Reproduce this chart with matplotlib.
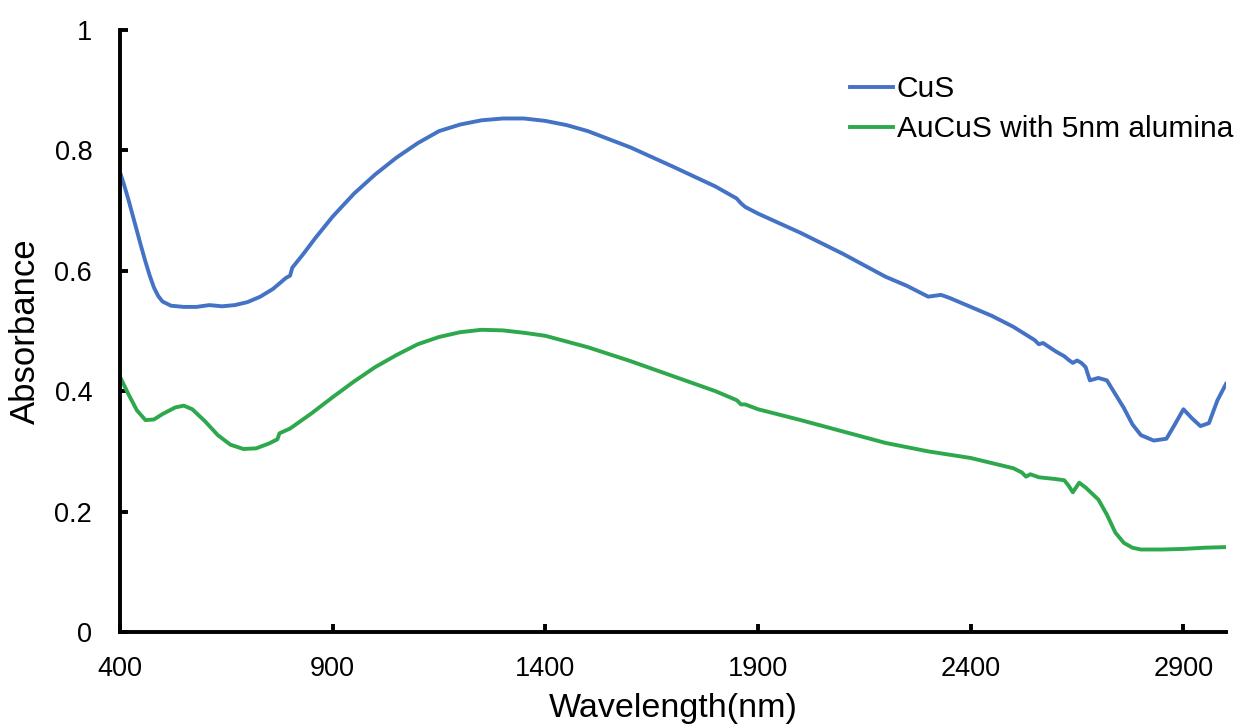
import matplotlib
matplotlib.use("Agg")
import matplotlib.pyplot as plt

plt.rcParams['font.family'] = ['Liberation Sans', 'DejaVu Sans']

# CuS absorbance spectrum
cus_wl = [400, 410, 420, 430, 440, 450, 460, 470, 480, 490, 500, 520, 550, 580,
          610, 640, 670, 700, 730, 760, 790, 800, 805, 830, 860, 900, 950, 1000,
          1050, 1100, 1150, 1200, 1250, 1300, 1350, 1400, 1450, 1500, 1600, 1700,
          1800, 1850, 1860, 1870, 1900, 2000, 2100, 2200, 2250, 2300, 2330, 2350,
          2400, 2450, 2500, 2550, 2560, 2570, 2600, 2620, 2630, 2640, 2650, 2660,
          2670, 2680, 2700, 2720, 2740, 2760, 2780, 2800, 2830, 2860, 2880, 2900,
          2920, 2940, 2960, 2980, 3000]
cus_abs = [0.764, 0.742, 0.718, 0.692, 0.666, 0.640, 0.615, 0.592, 0.572, 0.558,
           0.549, 0.542, 0.540, 0.540, 0.543, 0.541, 0.543, 0.548, 0.557, 0.570,
           0.588, 0.592, 0.605, 0.627, 0.655, 0.690, 0.728, 0.760, 0.788, 0.812,
           0.832, 0.843, 0.850, 0.853, 0.853, 0.849, 0.842, 0.832, 0.805, 0.773,
           0.740, 0.720, 0.712, 0.706, 0.695, 0.663, 0.628, 0.590, 0.575, 0.557,
           0.560, 0.555, 0.540, 0.525, 0.507, 0.485, 0.478, 0.480, 0.466, 0.458,
           0.452, 0.447, 0.451, 0.447, 0.440, 0.418, 0.422, 0.418, 0.395, 0.372,
           0.345, 0.327, 0.318, 0.321, 0.345, 0.370, 0.355, 0.342, 0.347, 0.385,
           0.412]

# AuCuS with 5nm alumina
au_wl = [400, 420, 440, 460, 480, 500, 530, 550, 570, 600, 630, 660, 690, 720,
         750, 770, 775, 800, 850, 900, 950, 1000, 1050, 1100, 1150, 1200, 1250,
         1300, 1350, 1400, 1500, 1600, 1700, 1800, 1850, 1860, 1870, 1900, 2000,
         2100, 2200, 2300, 2400, 2500, 2520, 2530, 2540, 2560, 2600, 2620, 2630,
         2640, 2655, 2670, 2700, 2720, 2740, 2760, 2780, 2800, 2850, 2900, 2950,
         3000]
au_abs = [0.424, 0.395, 0.368, 0.352, 0.353, 0.362, 0.373, 0.376, 0.370, 0.350,
          0.327, 0.311, 0.304, 0.305, 0.313, 0.320, 0.330, 0.338, 0.363, 0.390,
          0.416, 0.440, 0.460, 0.478, 0.490, 0.498, 0.502, 0.501, 0.497, 0.492,
          0.473, 0.450, 0.425, 0.400, 0.385, 0.378, 0.378, 0.370, 0.352, 0.333,
          0.314, 0.300, 0.289, 0.272, 0.265, 0.258, 0.262, 0.257, 0.254, 0.252,
          0.243, 0.232, 0.248, 0.240, 0.220, 0.195, 0.165, 0.148, 0.140, 0.137,
          0.137, 0.138, 0.140, 0.141]

x_ticks = [400, 900, 1400, 1900, 2400, 2900]
y_ticks = [0, 0.2, 0.4, 0.6, 0.8, 1]
y_labels = ['0', '0.2', '0.4', '0.6', '0.8', '1']


def main():
    fig = plt.figure(figsize=(12.34, 7.28), dpi=100)
    ax = fig.add_axes([0.0972, 0.1319, 0.8963, 0.8269])

    ax.plot(cus_wl, cus_abs, color='#4472C4', lw=2.8, label='CuS')
    ax.plot(au_wl, au_abs, color='#2EA84C', lw=2.8, label='AuCuS with 5nm alumina')

    ax.set_xlim(400, 3000)
    ax.set_ylim(0, 1)
    ax.set_xticks(x_ticks)
    ax.set_yticks(y_ticks)
    ax.set_yticklabels(y_labels)

    for side in ('top', 'right'):
        ax.spines[side].set_visible(False)
    for side in ('left', 'bottom'):
        ax.spines[side].set_linewidth(2.8)
    ax.tick_params(direction='in', length=6, width=2.8, labelsize=19.5)
    ax.tick_params(axis='x', pad=17)
    ax.tick_params(axis='y', pad=20)

    ax.set_xlabel('Wavelength(nm)', fontsize=24.5, labelpad=8)
    ax.set_ylabel('Absorbance', fontsize=25, labelpad=9)

    ax.legend(loc='upper left', bbox_to_anchor=(0.660, 0.925), frameon=False,
              fontsize=21.5, handlelength=1.45, handletextpad=0.12,
              labelspacing=0.4, borderpad=0, borderaxespad=0)

    fig.savefig('out.png', dpi=100)


if __name__ == '__main__':
    main()
